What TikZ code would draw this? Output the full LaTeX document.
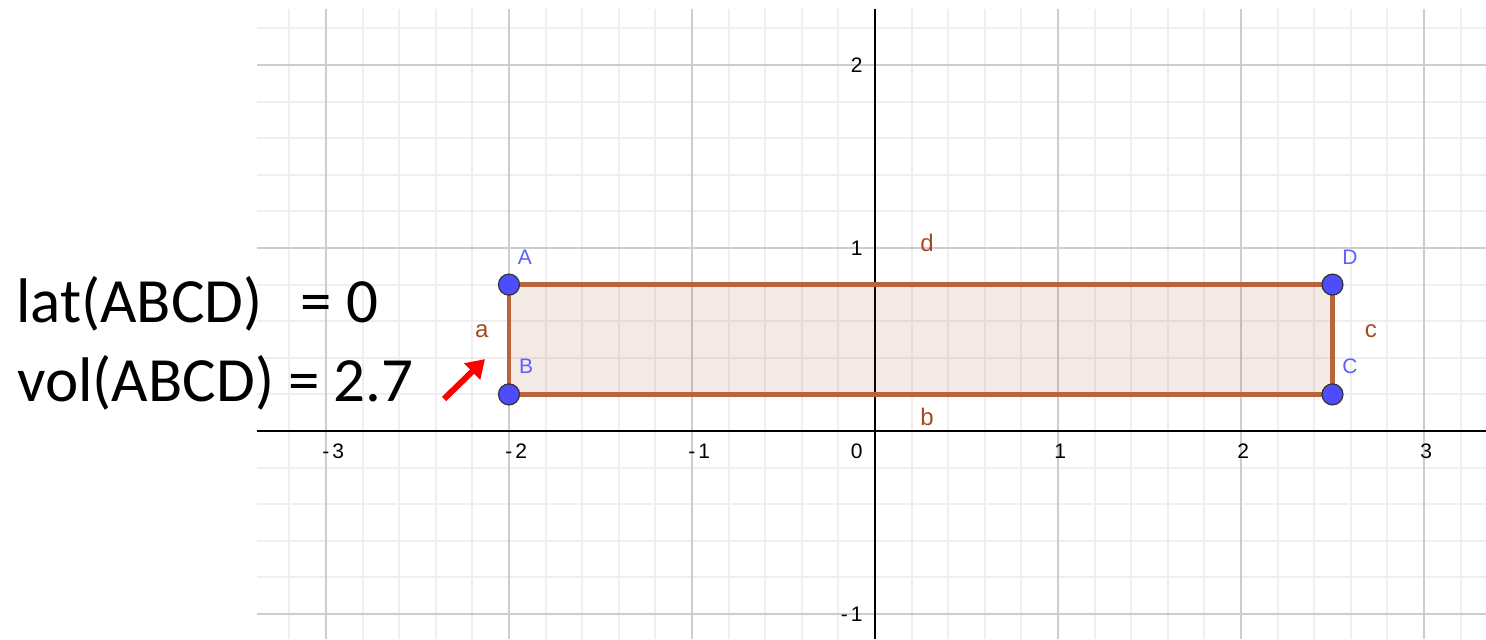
\documentclass[tikz,border=0pt]{standalone}
\usepackage{fontspec}
\setmainfont{Liberation Sans}
\newfontfamily\calib{Carlito}
\usetikzlibrary{arrows.meta}

\definecolor{gridminor}{RGB}{239,239,239}
\definecolor{gridmajor}{RGB}{205,205,205}
\definecolor{segbrown}{RGB}{185,100,60}
\definecolor{polyfill}{RGB}{153,51,0}
\definecolor{lblbrown}{RGB}{165,75,35}
\definecolor{ptblue}{RGB}{77,77,255}
\definecolor{lblblue}{RGB}{95,95,255}

\begin{document}
\begin{tikzpicture}[x=91.5pt,y=91.5pt,
  minorline/.style={gridminor,line width=1pt},
  majorline/.style={gridmajor,line width=1.3pt},
  axisline/.style={black,line width=1pt},
  ticklbl/.style={font=\fontsize{10.5}{12}\selectfont,inner sep=0pt},
  ptlbl/.style={font=\fontsize{10.5}{12}\selectfont,text=lblblue,inner sep=0pt},
  seglbl/.style={font=\fontsize{12}{14}\selectfont,text=lblbrown,inner sep=0pt},
  segline/.style={segbrown,line width=2.4pt},
  ptdot/.style={circle,fill=ptblue,draw=black!80,line width=0.6pt,minimum size=10.5pt,inner sep=0pt},
  bigtext/.style={font=\calib\fontsize{31.5}{37}\selectfont,inner sep=0pt,anchor=base west}
]
\useasboundingbox (-4.7814,-1.1366) rectangle (3.3388,2.3552);
\fill[white] (-4.7814,-1.1366) rectangle (3.3388,2.3552);
\def\gl{-3.377}
\def\gr{3.3388}
\def\gb{-1.1366}
\def\gt{2.306}
% minor grid
\foreach \i in {-16,...,16} { \draw[minorline] (\i*0.2,\gb) -- (\i*0.2,\gt); }
\foreach \j in {-5,...,11} { \draw[minorline] (\gl,\j*0.2) -- (\gr,\j*0.2); }
% major grid
\foreach \i in {-3,-2,-1,1,2,3} { \draw[majorline] (\i,\gb) -- (\i,\gt); }
\foreach \j in {-1,1,2} { \draw[majorline] (\gl,\j) -- (\gr,\j); }
% axes
\draw[axisline] (\gl,0) -- (\gr,0);
\draw[axisline] (0,\gb) -- (0,\gt);
% tick labels
\foreach \i/\t in {-3/{-\kern1.5pt 3},-2/{-\kern1.5pt 2},-1/{-\kern1.5pt 1},1/1,2/2,3/3}
  { \node[ticklbl,anchor=west] (xl\i) at (\i-0.0219,-0.109) {\t}; }
\node[ticklbl,anchor=east] (xl0) at (-0.0656,-0.109) {0};
\node[ticklbl,anchor=east] (yl1) at (-0.0656,1) {1};
\node[ticklbl,anchor=east] (yl2) at (-0.0656,2) {2};
\node[ticklbl,anchor=east] (ylm1) at (-0.0656,-1) {-\kern1.5pt 1};
% polygon
\coordinate (pA) at (-2,0.8);
\coordinate (pB) at (-2,0.2);
\coordinate (pC) at (2.5,0.2);
\coordinate (pD) at (2.5,0.8);
\fill[polyfill,fill opacity=0.1] (pA) -- (pB) -- (pC) -- (pD) -- cycle;
\draw[segline] (pA) -- (pB);
\draw[segline] (pB) -- (pC);
\draw[segline] (pC) -- (pD);
\draw[segline] (pD) -- (pA);
\node[ptdot] (A) at (pA) {};
\node[ptdot] (B) at (pB) {};
\node[ptdot] (C) at (pC) {};
\node[ptdot] (D) at (pD) {};
\node[ptlbl] (lA) at (-1.913,0.951) {A};
\node[ptlbl] (lB) at (-1.907,0.355) {B};
\node[ptlbl] (lC) at (2.596,0.355) {C};
\node[ptlbl] (lD) at (2.596,0.951) {D};
\node[seglbl] (la) at (-2.148,0.546) {a};
\node[seglbl] (lb) at (0.284,0.077) {b};
\node[seglbl] (lc) at (2.710,0.546) {c};
\node[seglbl] (ld) at (0.284,1.027) {d};
% red arrow
\coordinate (arrT) at (-2.355,0.175);
\coordinate (arrH) at (-2.131,0.393);
\draw[red,line width=3pt,-{Triangle[length=9pt,width=11pt]}] (arrT) -- (arrH);
% big text
\node[bigtext] (lat) at (-4.695,0.5956) {lat(ABCD)\hspace{19pt}= 0};
\node[bigtext] (vol) at (-4.689,0.164) {vol(ABCD) = 2.7};
\end{tikzpicture}
\end{document}
